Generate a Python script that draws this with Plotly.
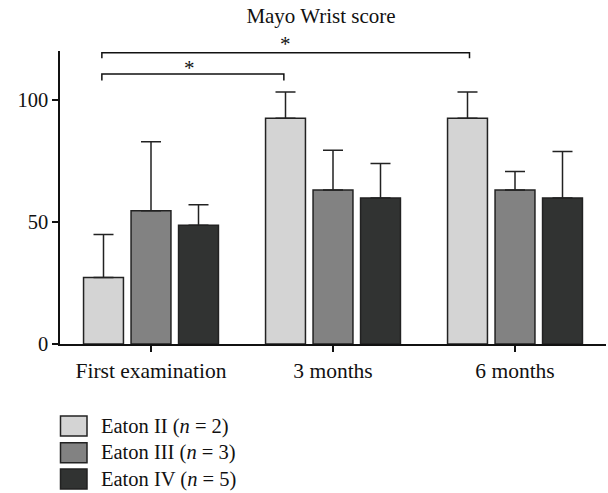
import plotly.graph_objects as go

categories = ["First examination", "3 months", "6 months"]
series_names = ["Eaton II (<i>n</i> = 2)", "Eaton III (<i>n</i> = 3)", "Eaton IV (<i>n</i> = 5)"]
eaton2_mean = [27.2, 92.5, 92.5]
eaton2_err = [17.6, 10.7, 10.7]
eaton3_mean = [54.6, 63.1, 63.1]
eaton3_err = [28.2, 16.3, 7.5]
eaton4_mean = [48.6, 59.8, 59.8]
eaton4_err = [8.4, 14.1, 19.0]
colors = ["#d4d4d4", "#828282", "#313332"]
y_ticks = [0, 50, 100]

# significance brackets: (x start, x end, y top, y leg end)
bracket_x0 = [-0.27, -0.27]
bracket_x1 = [0.73, 1.75]
bracket_top = [110.6, 119.3]
bracket_leg = [107.9, 117.0]
star_x = [0.21, 0.74]
star_px_y = [68, 44]   # vertical pixel position of the star labels

FONT = "Liberation Serif, Times New Roman, serif"
EDGE = "#222222"
TXT = "#111111"

means = [eaton2_mean, eaton3_mean, eaton4_mean]
errs = [eaton2_err, eaton3_err, eaton4_err]
xpos = list(range(len(categories)))

# plot area in pixels
L, R, T, B = 60, 606, 51, 344
def px_x(p):
    return (p - L) / (R - L)
def px_y(p):
    return (B - p) / (B - T)

fig = go.Figure()
for name, m, e, c in zip(series_names, means, errs, colors):
    fig.add_trace(go.Bar(
        x=xpos, y=m, name=name, showlegend=False,
        marker=dict(color=c, line=dict(color=EDGE, width=1.5)),
        error_y=dict(type="data", symmetric=False, array=e, arrayminus=[0] * len(e),
                     color=EDGE, thickness=1.5, width=10),
    ))

shapes = []
for x0, x1, yt, yl in zip(bracket_x0, bracket_x1, bracket_top, bracket_leg):
    shapes.append(dict(type="path", xref="x", yref="y",
                       path=f"M {x0},{yl} L {x0},{yt} L {x1},{yt} L {x1},{yl}",
                       line=dict(color=TXT, width=1.5)))

annotations = []
for sx, sy in zip(star_x, star_px_y):
    annotations.append(dict(x=sx, y=px_y(sy), xref="x", yref="paper", text="*", showarrow=False,
                            font=dict(family=FONT, size=21, color=TXT),
                            xanchor="center", yanchor="middle"))

# manual legend
row_centers = [426, 452.7, 479]
for name, c, rc in zip(series_names, colors, row_centers):
    shapes.append(dict(type="rect", xref="paper", yref="paper",
                       x0=px_x(60.5), x1=px_x(87), y0=px_y(rc - 10), y1=px_y(rc + 10),
                       fillcolor=c, line=dict(color=EDGE, width=1.5)))
    annotations.append(dict(x=px_x(99), y=px_y(rc), xref="paper", yref="paper",
                            text=name, showarrow=False, xanchor="left", yanchor="middle",
                            font=dict(family=FONT, size=20.5, color=TXT)))

fig.update_layout(
    width=608, height=493,
    margin=dict(l=60, r=2, t=51, b=149),
    paper_bgcolor="white", plot_bgcolor="white",
    barmode="group", bargap=0.217, bargroupgap=0.16,
    title=dict(text="Mayo Wrist score", x=321 / 608, xref="container", xanchor="center",
               y=1 - 16 / 493, yref="container", yanchor="middle",
               font=dict(family=FONT, size=21, color=TXT)),
    font=dict(family=FONT, size=21, color=TXT),
    shapes=shapes, annotations=annotations,
    xaxis=dict(range=[-0.5, 2.5], tickvals=xpos, ticktext=categories,
               showline=True, linecolor=TXT, linewidth=1.5,
               ticks="outside", ticklen=6, tickwidth=1.5, tickcolor=TXT,
               showgrid=False, zeroline=False,
               tickfont=dict(family=FONT, size=21.5, color=TXT)),
    yaxis=dict(range=[0, 120], tickvals=y_ticks,
               showline=True, linecolor=TXT, linewidth=1.5,
               ticks="outside", ticklen=6, tickwidth=1.5, tickcolor=TXT,
               showgrid=False, zeroline=False,
               tickfont=dict(family=FONT, size=20.5, color=TXT)),
)

fig.write_html("out.html", config={"displayModeBar": False},
               post_script="document.body.style.margin='0px';")
